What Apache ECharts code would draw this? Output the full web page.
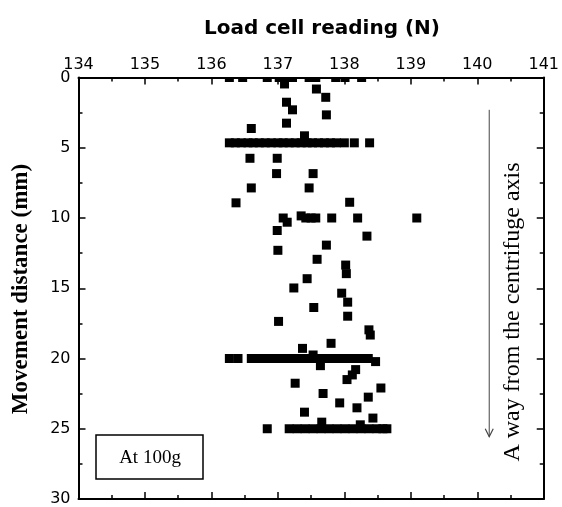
<!DOCTYPE html>
<html>
<head>
<meta charset="utf-8">
<script src="https://cdn.jsdelivr.net/npm/echarts@6/dist/echarts.min.js"></script>
<style>html,body{margin:0;padding:0;background:#fff}#c{width:562px;height:507px}</style>
</head>
<body>
<div id="c"></div>
<script>
// Load cell reading (N) of each measurement
var loadCellN = [
  136.27,136.47,136.84,137.02,137.12,137.22,137.47,137.57,137.87,138.01,138.26,
  137.10,137.58,137.72,137.13,137.22,137.73,137.13,136.60,137.40,
  136.27,136.36,136.45,136.55,136.63,136.72,136.81,136.90,137.00,137.08,137.17,137.26,137.35,137.44,137.52,137.61,137.70,137.79,137.88,138.00,138.15,138.38,
  136.58,136.99,136.98,137.53,136.60,137.47,136.37,138.08,
  137.08,137.35,137.42,137.50,137.57,137.81,138.20,139.09,137.14,
  136.99,138.34,137.73,137.00,137.59,138.02,138.03,137.44,137.24,137.96,138.05,137.54,138.05,137.01,138.37,138.39,137.80,137.37,137.53,
  136.27,136.40,136.60,136.72,136.84,136.96,137.08,137.20,137.32,137.44,137.56,137.68,137.80,137.92,138.04,138.16,138.26,138.36,
  138.47,137.64,138.17,138.12,138.04,137.26,138.55,137.68,138.36,137.93,138.19,137.40,138.43,137.66,138.24,
  136.84,137.17,137.29,137.41,137.53,137.65,137.77,137.89,138.01,138.13,138.25,138.37,138.49,138.58,138.64
];
// Movement distance (mm) of each measurement
var distanceMM = [
  0,0,0,0,0,0,0,0,0,0,0,
  0.46,0.82,1.41,1.76,2.30,2.66,3.25,3.63,4.15,
  4.65,4.65,4.65,4.65,4.65,4.65,4.65,4.65,4.65,4.65,4.65,4.65,4.65,4.65,4.65,4.65,4.65,4.65,4.65,4.65,4.65,4.65,
  5.75,5.75,6.84,6.84,7.86,7.86,8.92,8.88,
  10,9.85,10,10,10,10,10,10,10.3,
  10.89,11.29,11.93,12.30,12.94,13.35,13.96,14.32,14.98,15.35,15.99,16.37,16.99,17.36,17.96,18.33,18.92,19.28,19.75,
  20,20,20,20,20,20,20,20,20,20,20,20,20,20,20,20,20,20,
  20.22,20.51,20.79,21.17,21.5,21.76,22.1,22.49,22.75,23.16,23.51,23.82,24.24,24.53,24.72,
  25,25,25,25,25,25,25,25,25,25,25,25,25,25,25
];
var xTicks = [134,135,136,137,138,139,140,141];
var yTicks = [0,5,10,15,20,25,30];
var arrowX = 140.18, arrowFrom = 2.3, arrowTo = 25.57;

var points = loadCellN.map(function(v,i){ return [v, distanceMM[i]]; });

var chart = echarts.init(document.getElementById('c'), null, {renderer:'canvas'});
var axisCommon = {
  type:'value', splitLine:{show:false}, z:100,
  axisLine:{show:true, onZero:false, lineStyle:{color:'#000', width:2}},
  axisTick:{show:true, inside:true, length:7, lineStyle:{color:'#000', width:1.5}},
  minorTick:{show:true, splitNumber:2, length:4, lineStyle:{color:'#000', width:1.5}}
};
function ax(extra){ return Object.assign({}, JSON.parse(JSON.stringify(axisCommon)), extra); }
var labelStyle = {color:'#000', fontSize:16, fontFamily:'DejaVu Sans'};

chart.setOption({
  animation:false,
  backgroundColor:'#fff',
  title:{text:'Load cell reading (N)', left:317, top:14, textAlign:'center',
    textStyle:{fontFamily:'DejaVu Sans', fontWeight:'bold', fontSize:20, color:'#000'}},
  grid:{left:78.5, right:15, top:77.5, bottom:7, containLabel:false},
  xAxis:[
    ax({position:'top', min:xTicks[0], max:xTicks[xTicks.length-1], interval:1,
      axisLabel:Object.assign({margin:5}, labelStyle)}),
    ax({position:'bottom', min:xTicks[0], max:xTicks[xTicks.length-1], interval:1,
      axisLabel:{show:false}})
  ],
  yAxis:[
    ax({position:'left', inverse:true, min:yTicks[0], max:yTicks[yTicks.length-1], interval:5,
      axisLabel:Object.assign({margin:8}, labelStyle)}),
    ax({position:'right', inverse:true, min:yTicks[0], max:yTicks[yTicks.length-1], interval:5,
      axisLabel:{show:false}})
  ],
  series:[{
    type:'scatter', xAxisIndex:0, yAxisIndex:0, symbol:'rect', symbolSize:9,
    itemStyle:{color:'#000', opacity:1}, emphasis:{disabled:true}, data:points, clip:false, z:2
  }]
});

var a0 = chart.convertToPixel({xAxisIndex:0, yAxisIndex:0}, [arrowX, arrowFrom]);
var a1 = chart.convertToPixel({xAxisIndex:0, yAxisIndex:0}, [arrowX, arrowTo]);
var topLeft = chart.convertToPixel({xAxisIndex:0, yAxisIndex:0}, [134, 0]);
var topRight = chart.convertToPixel({xAxisIndex:0, yAxisIndex:0}, [141, 0]);

chart.setOption({
  graphic:[
    {type:'rect', z:50, silent:true, shape:{x:topLeft[0], y:topLeft[1]-10, width:topRight[0]-topLeft[0], height:10}, style:{fill:'#fff'}},
    {type:'line', z:60, shape:{x1:a0[0], y1:a0[1], x2:a1[0], y2:a1[1]}, style:{stroke:'#444', lineWidth:1}},
    {type:'polyline', z:60, shape:{points:[[a1[0]-4, a1[1]-8],[a1[0], a1[1]],[a1[0]+4, a1[1]-8]]}, style:{stroke:'#444', lineWidth:1.2, fill:null}},
    {type:'text', z:60, x:513, y:312, rotation:Math.PI/2,
      style:{text:'A way from the centrifuge axis', fontFamily:'Liberation Serif', fontSize:24, fill:'#000', align:'center', verticalAlign:'middle'}},
    {type:'text', z:60, x:21, y:289, rotation:Math.PI/2,
      style:{text:'Movement distance (mm)', fontFamily:'Liberation Serif', fontWeight:'bold', fontSize:23, fill:'#000', align:'center', verticalAlign:'middle'}},
    {type:'rect', z:60, shape:{x:96, y:435, width:107, height:44}, style:{fill:'#fff', stroke:'#000', lineWidth:1.5}},
    {type:'text', z:61, x:150, y:458,
      style:{text:'At 100g', fontFamily:'Liberation Serif', fontSize:19, fill:'#000', align:'center', verticalAlign:'middle'}}
  ]
});
</script>
</body>
</html>
